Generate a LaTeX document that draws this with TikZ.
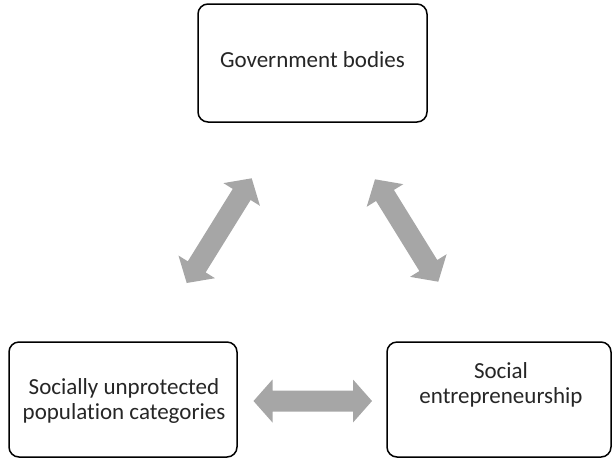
\documentclass[tikz,border=0pt]{standalone}
\usepackage{fontspec}
\setmainfont{Carlito}[Ligatures={NoCommon,NoRare,NoContextual}]
\usetikzlibrary{calc}
\definecolor{arrowgray}{HTML}{A6A6A6}
\newcommand\ahl{19pt}
\newcommand\ahw{21.5pt}
\newcommand\asw{10.5pt}
\newcommand\blockarrow[2]{%
  \fill[arrowgray] (#1)
   -- ($(#1)!\ahl!(#2)!\ahw!90:(#2)$)
   -- ($(#1)!\ahl!(#2)!\asw!90:(#2)$)
   -- ($(#2)!\ahl!(#1)!\asw!-90:(#1)$)
   -- ($(#2)!\ahl!(#1)!\ahw!-90:(#1)$)
   -- (#2)
   -- ($(#2)!\ahl!(#1)!\ahw!90:(#1)$)
   -- ($(#2)!\ahl!(#1)!\asw!90:(#1)$)
   -- ($(#1)!\ahl!(#2)!\asw!-90:(#2)$)
   -- ($(#1)!\ahl!(#2)!\ahw!-90:(#2)$)
   -- cycle;}
\begin{document}
\begin{tikzpicture}[x=1pt,y=-1pt,
  box/.style={draw=black, line width=1.5pt, rounded corners=10pt, fill=white, inner sep=0pt},
  lbl/.style={font=\fontsize{23}{25}\selectfont, align=center, text=black!85, inner sep=0pt}]
\useasboundingbox (0,0) rectangle (612,459);
% boxes
\node[box, minimum width=229pt, minimum height=118pt] (gov) at (312.5,63) {};
\node[box, minimum width=228pt, minimum height=115pt] (pop) at (123,399.5) {};
\node[box, minimum width=224pt, minimum height=115pt] (soc) at (499,399.5) {};
% texts
\node[lbl] (govt) at (312.5,60) {Government bodies};
\node[lbl] (popt) at (124,401) {Socially unprotected\\population categories};
\node[lbl] (soct) at (501,385) {Social\\entrepreneurship};
% arrow tips
\coordinate (gA) at (251.7,178.3);
\coordinate (pA) at (186.7,283);
\coordinate (gB) at (375,179.3);
\coordinate (sB) at (438.3,281.7);
\coordinate (pC) at (253.5,401);
\coordinate (sC) at (372,401);
\blockarrow{pA}{gA}
\blockarrow{gB}{sB}
\blockarrow{pC}{sC}
\end{tikzpicture}
\end{document}
